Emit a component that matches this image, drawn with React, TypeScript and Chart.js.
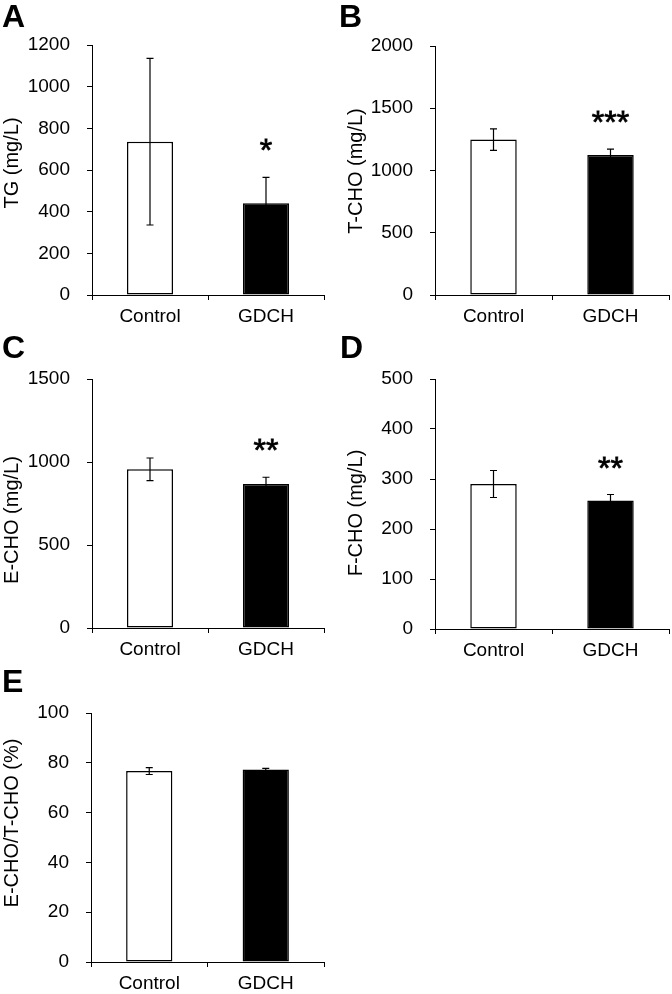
import React, { useEffect, useRef } from "react";
import { Chart, registerables } from "chart.js";

Chart.register(...registerables);

// ---------- data ----------
const categories = ["Control", "GDCH"];

const tgMeans = [736, 440];
const tgErrors = [400, 125];
const tgStars = ["", "*"];
const tgAxis = { max: 1200, step: 200 };

const tchoMeans = [1248, 1124];
const tchoErrors = [87, 48];
const tchoStars = ["", "***"];
const tchoAxis = { max: 2000, step: 500 };

const echoMeans = [956, 868];
const echoErrors = [68, 40];
const echoStars = ["", "**"];
const echoAxis = { max: 1500, step: 500 };

const fchoMeans = [290, 257];
const fchoErrors = [27, 12];
const fchoStars = ["", "**"];
const fchoAxis = { max: 500, step: 100 };

const ratioMeans = [76.7, 77.3];
const ratioErrors = [1.4, 0.5];
const ratioStars = ["", ""];
const ratioAxis = { max: 100, step: 20 };

const panelLetters = ["A", "B", "C", "D", "E"];
const axisTitles = ["TG (mg/L)", "T-CHO (mg/L)", "E-CHO (mg/L)", "F-CHO (mg/L)", "E-CHO/T-CHO (%)"];

// ---------- layout (page coords) ----------
const FONT = '"Liberation Sans", Arial, Helvetica, sans-serif';
Chart.defaults.font.family = FONT;

type Panel = {
  letter: string;
  title: string;
  means: number[];
  errors: number[];
  stars: string[];
  axis: { max: number; step: number };
  box: { x: number; y: number; w: number; h: number };
  area: { l: number; t: number; r: number; b: number };
  letterPos: { x: number; y: number };
  titlePos: { x: number; y: number };
};

const panels: Panel[] = [
  {
    letter: panelLetters[0], title: axisTitles[0], means: tgMeans, errors: tgErrors, stars: tgStars, axis: tgAxis,
    box: { x: 0, y: 0, w: 336, h: 330 }, area: { l: 92, t: 45, r: 324, b: 295 },
    letterPos: { x: 2, y: 27 }, titlePos: { x: 12, y: 163 },
  },
  {
    letter: panelLetters[1], title: axisTitles[1], means: tchoMeans, errors: tchoErrors, stars: tchoStars, axis: tchoAxis,
    box: { x: 336, y: 0, w: 336, h: 330 }, area: { l: 435, t: 46, r: 669, b: 295 },
    letterPos: { x: 339, y: 27 }, titlePos: { x: 356, y: 171 },
  },
  {
    letter: panelLetters[2], title: axisTitles[2], means: echoMeans, errors: echoErrors, stars: echoStars, axis: echoAxis,
    box: { x: 0, y: 330, w: 336, h: 330 }, area: { l: 92, t: 379, r: 324, b: 628 },
    letterPos: { x: 2, y: 358 }, titlePos: { x: 12, y: 520 },
  },
  {
    letter: panelLetters[3], title: axisTitles[3], means: fchoMeans, errors: fchoErrors, stars: fchoStars, axis: fchoAxis,
    box: { x: 336, y: 330, w: 336, h: 330 }, area: { l: 435, t: 379, r: 669, b: 629 },
    letterPos: { x: 340, y: 358 }, titlePos: { x: 356, y: 513 },
  },
  {
    letter: panelLetters[4], title: axisTitles[4], means: ratioMeans, errors: ratioErrors, stars: ratioStars, axis: ratioAxis,
    box: { x: 0, y: 660, w: 336, h: 334 }, area: { l: 91, t: 713, r: 324, b: 962 },
    letterPos: { x: 2, y: 692 }, titlePos: { x: 12, y: 823 },
  },
];

const annotatePlugin = {
  id: "annotate",
  afterDatasetsDraw(chart: any, _args: any, opts: any) {
    const ctx = chart.ctx as CanvasRenderingContext2D;
    const meta = chart.getDatasetMeta(0);
    const ys = chart.scales.y;
    meta.data.forEach((bar: any, i: number) => {
      const m = opts.means[i];
      const e = opts.errors[i];
      const yt = ys.getPixelForValue(m + e);
      const yb = ys.getPixelForValue(m - e);
      const hw = 3.5;
      ctx.save();
      ctx.strokeStyle = "#000";
      ctx.lineWidth = 1.2;
      ctx.beginPath();
      ctx.moveTo(bar.x, yt);
      ctx.lineTo(bar.x, yb);
      ctx.moveTo(bar.x - hw, yt);
      ctx.lineTo(bar.x + hw, yt);
      ctx.moveTo(bar.x - hw, yb);
      ctx.lineTo(bar.x + hw, yb);
      ctx.stroke();
      if (opts.stars[i]) {
        ctx.fillStyle = "#000";
        ctx.strokeStyle = "#000";
        ctx.lineWidth = 0.8;
        ctx.font = `32px ${FONT}`;
        ctx.textAlign = "center";
        ctx.textBaseline = "alphabetic";
        ctx.fillText(opts.stars[i], bar.x, yt - 16);
        ctx.strokeText(opts.stars[i], bar.x, yt - 16);
      }
      ctx.restore();
    });
  },
  afterDraw(chart: any, _args: any, opts: any) {
    const ctx = chart.ctx as CanvasRenderingContext2D;
    ctx.save();
    ctx.fillStyle = "#000";
    ctx.font = `bold 32px ${FONT}`;
    ctx.textAlign = "left";
    ctx.textBaseline = "alphabetic";
    ctx.fillText(opts.letter, opts.letterX, opts.letterY);
    ctx.font = `20px ${FONT}`;
    ctx.translate(opts.titleX, opts.titleY);
    ctx.rotate(-Math.PI / 2);
    ctx.textAlign = "center";
    ctx.textBaseline = "middle";
    ctx.fillText(opts.title, 0, 0);
    ctx.restore();
  },
};

function PanelChart({ p }: { p: Panel }) {
  const ref = useRef<HTMLCanvasElement>(null);
  useEffect(() => {
    if (!ref.current) return;
    const { box, area } = p;
    const chart = new Chart(ref.current, {
      type: "bar",
      data: {
        labels: categories,
        datasets: [
          {
            data: p.means,
            backgroundColor: ["#ffffff", "#000000"],
            borderColor: "#000000",
            borderWidth: 1.5,
            borderSkipped: false,
            barPercentage: 1,
            categoryPercentage: 0.397,
          },
        ],
      },
      options: {
        animation: false,
        responsive: false,
        maintainAspectRatio: false,
        layout: {
          padding: { left: 0, top: area.t - box.y, right: box.x + box.w - area.r, bottom: 0 },
        },
        plugins: {
          legend: { display: false },
          tooltip: { enabled: false },
          annotate: {
            means: p.means,
            errors: p.errors,
            stars: p.stars,
            letter: p.letter,
            letterX: p.letterPos.x - box.x,
            letterY: p.letterPos.y - box.y,
            title: p.title,
            titleX: p.titlePos.x - box.x,
            titleY: p.titlePos.y - box.y,
          },
        } as any,
        scales: {
          x: {
            type: "category",
            offset: true,
            grid: { offset: true, drawOnChartArea: false, drawTicks: true, tickLength: 5, color: "#000", lineWidth: 1 },
            border: { color: "#000", width: 1 },
            ticks: { color: "#000", font: { size: 19, family: FONT }, padding: 5, maxRotation: 0 },
            afterFit: (s: any) => {
              s.height = box.y + box.h - area.b;
            },
          },
          y: {
            min: 0,
            max: p.axis.max,
            ticks: {
              stepSize: p.axis.step,
              color: "#000",
              font: { size: 19, family: FONT },
              padding: 17,
              callback: (v: any) => String(v),
            },
            grid: { drawOnChartArea: false, drawTicks: true, tickLength: 5, color: "#000", lineWidth: 1 },
            border: { color: "#000", width: 1 },
            afterFit: (s: any) => {
              s.width = area.l - box.x;
            },
          },
        },
      } as any,
      plugins: [annotatePlugin],
    });
    return () => chart.destroy();
  }, [p]);
  return (
    <canvas
      ref={ref}
      width={p.box.w}
      height={p.box.h}
      style={{ position: "absolute", left: p.box.x, top: p.box.y, width: p.box.w, height: p.box.h }}
    />
  );
}

export default function App() {
  return (
    <div style={{ position: "absolute", left: 0, top: 0, width: 672, height: 994, background: "#fff" }}>
      {panels.map((p) => (
        <PanelChart key={p.letter} p={p} />
      ))}
    </div>
  );
}
